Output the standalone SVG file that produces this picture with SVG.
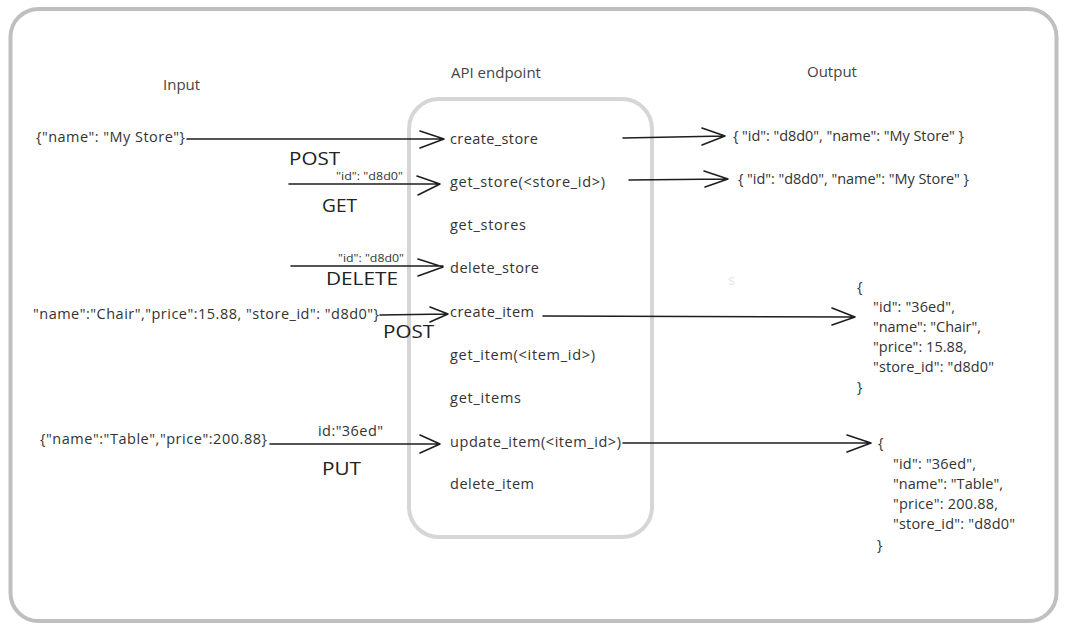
<svg xmlns="http://www.w3.org/2000/svg" width="1068" height="632" viewBox="0 0 1068 632">
<defs>
<style>
text{font-family:"Open Sans","Liberation Sans",sans-serif;fill:#333}
.h{font-size:15px;fill:#444}
.t{font-size:14.5px}
.m{font-size:18.5px;fill:#222}
.s{font-size:10.5px;fill:#333}
.ln{stroke:#1e1e1e;stroke-width:1.6;fill:none;stroke-linecap:round;stroke-linejoin:round}
</style>
</defs>
<rect x="0" y="0" width="1068" height="632" fill="#fff"/>
<g id="frame">
<rect x="10.5" y="9" width="1046" height="612" rx="28" fill="none" stroke="#bfbfbf" stroke-width="4"/>
</g>
<g id="headers">
<text class="h" x="163" y="90">Input</text>
<text class="h" x="451" y="78">API endpoint</text>
<text class="h" x="807" y="77">Output</text>
</g>
<g id="api-endpoint">
<rect x="409" y="99" width="243" height="438" rx="30" fill="none" stroke="#d6d6d6" stroke-width="4"/>
<text class="t" x="450" y="144" textLength="88">create_store</text>
<text class="t" x="450" y="187" textLength="155">get_store(&lt;store_id&gt;)</text>
<text class="t" x="450" y="230" textLength="76">get_stores</text>
<text class="t" x="450" y="273" textLength="89">delete_store</text>
<text class="t" x="450" y="317" textLength="84">create_item</text>
<text class="t" x="450" y="360" textLength="145">get_item(&lt;item_id&gt;)</text>
<text class="t" x="450" y="403" textLength="71">get_items</text>
<text class="t" x="450" y="447" textLength="171">update_item(&lt;item_id&gt;)</text>
<text class="t" x="450" y="489" textLength="84">delete_item</text>
</g>
<g id="inputs">
<text class="t" x="36" y="142" textLength="149">{"name": "My Store"}</text>
<text class="t" x="33" y="319" textLength="346">"name":"Chair","price":15.88, "store_id": "d8d0"}</text>
<text class="t" x="40" y="444" textLength="227">{"name":"Table","price":200.88}</text>
</g>
<g id="methods">
<text class="m" x="289" y="165" textLength="51" lengthAdjust="spacingAndGlyphs">POST</text>
<text class="m" x="322" y="212" textLength="35" lengthAdjust="spacingAndGlyphs">GET</text>
<text class="m" x="326" y="285" textLength="72" lengthAdjust="spacingAndGlyphs">DELETE</text>
<text class="m" x="383" y="338" textLength="51" lengthAdjust="spacingAndGlyphs">POST</text>
<text class="m" x="322" y="475" textLength="39" lengthAdjust="spacingAndGlyphs">PUT</text>
<text class="s" x="336" y="180" textLength="67" lengthAdjust="spacingAndGlyphs">"id": "d8d0"</text>
<text class="s" x="338" y="262" textLength="66" lengthAdjust="spacingAndGlyphs">"id": "d8d0"</text>
<text class="t" x="318" y="436" textLength="65">id:"36ed"</text>
</g>
<g id="outputs">
<text class="t" x="733" y="141" textLength="231">{ "id": "d8d0", "name": "My Store" }</text>
<text class="t" x="738" y="184" textLength="231">{ "id": "d8d0", "name": "My Store" }</text>
<text class="t" x="728" y="285" style="fill:#e6e6e6">s</text>
<text class="t" x="857" y="292">{</text>
<text class="t" x="873" y="312" textLength="82">"id": "36ed",</text>
<text class="t" x="873" y="332" textLength="108">"name": "Chair",</text>
<text class="t" x="873" y="352" textLength="94">"price": 15.88,</text>
<text class="t" x="873" y="372" textLength="121">"store_id": "d8d0"</text>
<text class="t" x="857" y="392">}</text>
<text class="t" x="878" y="448">{</text>
<text class="t" x="893" y="469" textLength="83">"id": "36ed",</text>
<text class="t" x="893" y="489" textLength="110">"name": "Table",</text>
<text class="t" x="893" y="509" textLength="105">"price": 200.88,</text>
<text class="t" x="893" y="529" textLength="122">"store_id": "d8d0"</text>
<text class="t" x="877" y="550">}</text>
</g>
<g id="connectors">
<path class="ln" d="M187 139 L444 139 M420 131 L444 139 L420 148"/>
<path class="ln" d="M289 184 L440 184 M417 176 L440 184 L418 195"/>
<path class="ln" d="M291 266 L443 266 M418 259 L443 267 L418 276"/>
<path class="ln" d="M380 315 L448 314 M430 307 L448 314 L430 322"/>
<path class="ln" d="M270 444 L440 444 M420 435 L440 444 L420 453"/>
<path class="ln" d="M623 138 L725 136 M702 128 L725 136 L702 145"/>
<path class="ln" d="M629 180 L728 179 M704 171 L728 179 L705 187"/>
<path class="ln" d="M543 316 L855 317 M832 308 L855 317 L832 325"/>
<path class="ln" d="M623 443 L871 443 M847 435 L871 443 L847 452"/>
</g>
</svg>
